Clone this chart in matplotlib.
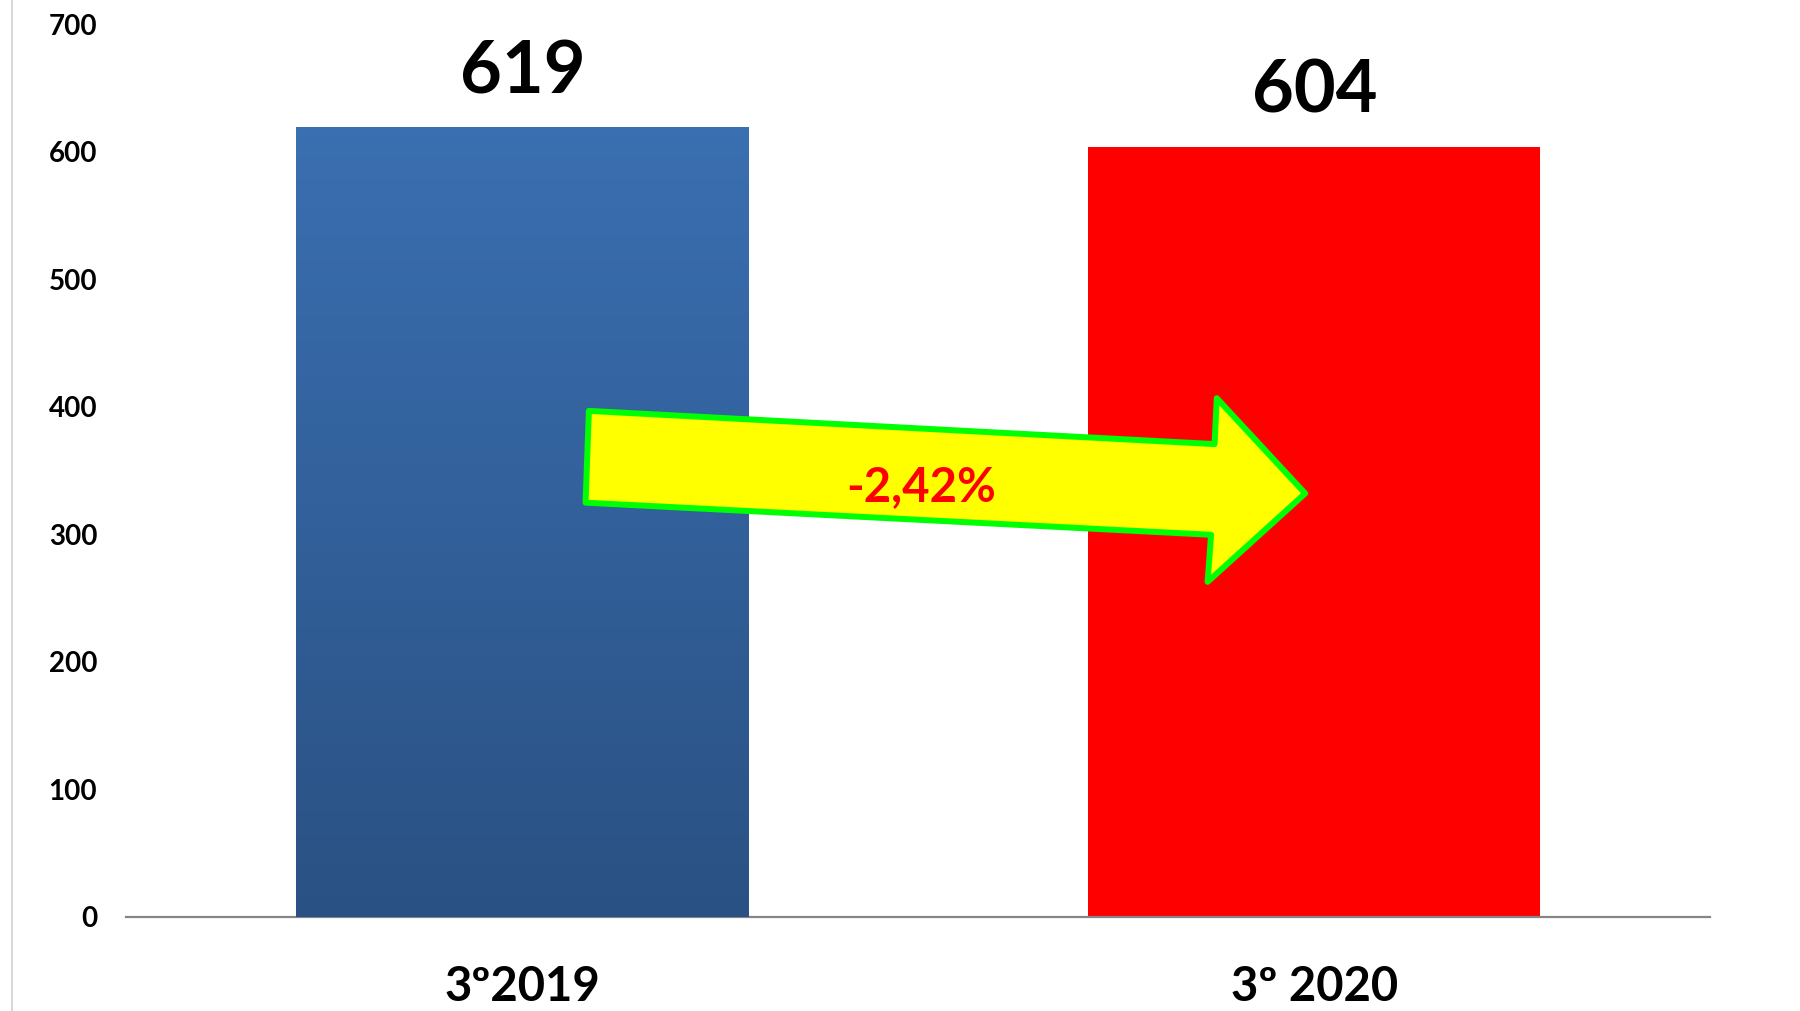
import matplotlib.pyplot as plt
import numpy as np
from matplotlib.patches import Polygon
from matplotlib.lines import Line2D
from matplotlib.colors import LinearSegmentedColormap

categories = ['3º2019', '3º 2020']
values = [619, 604]
change_label = '-2,42%'
y_ticks = [0, 100, 200, 300, 400, 500, 600, 700]

plt.rcParams['font.family'] = ['Lato', 'DejaVu Sans']
plt.rcParams['font.weight'] = 'bold'

fig = plt.figure(figsize=(18, 10.11), dpi=100)
ax = fig.add_axes([0.0702, 0.0931, 0.880, 0.883])

x = np.arange(len(categories))
bars = ax.bar(x, values, width=0.571, color=['#2F5D96', '#FF0000'], zorder=2)

# gradient on the first bar
blue = LinearSegmentedColormap.from_list('blu', ['#2A5183', '#3A6FB1'])
b = bars[0]
grad = np.linspace(0, 1, 256).reshape(-1, 1)
im = ax.imshow(grad, cmap=blue, origin='lower', aspect='auto', zorder=3,
               extent=[b.get_x(), b.get_x() + b.get_width(), 0, b.get_height()])
im.set_clip_path(b)

ax.bar_label(bars, labels=[str(v) for v in values], padding=15,
             fontsize=52, fontweight='bold', color='black')

ax.set_xlim(-0.5, 1.5)
ax.set_ylim(0, 700)
ax.set_yticks(y_ticks)
ax.set_xticks(x)
ax.set_xticklabels(categories, fontsize=34, fontweight='bold')
ax.tick_params(axis='y', length=0, pad=21, labelsize=20)
ax.tick_params(axis='x', length=0, pad=35)
for s in ['top', 'right', 'left']:
    ax.spines[s].set_visible(False)
ax.spines['bottom'].set_color('#868686')
ax.spines['bottom'].set_linewidth(1.6)

# the yellow arrow
arrow_pts = [(0.2920, 0.5668), (0.6870, 0.5296), (0.6884, 0.5810),
             (0.7442, 0.4743), (0.6826, 0.3753), (0.6848, 0.4280),
             (0.2899, 0.4640)]
arrow = Polygon(arrow_pts, closed=True, transform=ax.transAxes,
                facecolor='#FFFF00', edgecolor='#00FF00', linewidth=4.3,
                joinstyle='round', zorder=5)
ax.add_patch(arrow)
ax.text(0.502, 0.481, change_label, transform=ax.transAxes, ha='center',
        va='center', color='#FF0000', fontsize=34, fontweight='bold', zorder=6)

# chart frame line on the left
fig.add_artist(Line2D([0.0065, 0.0065], [0, 1], color='#D9D9D9', linewidth=1.5))

fig.savefig('out.png', dpi=100)
